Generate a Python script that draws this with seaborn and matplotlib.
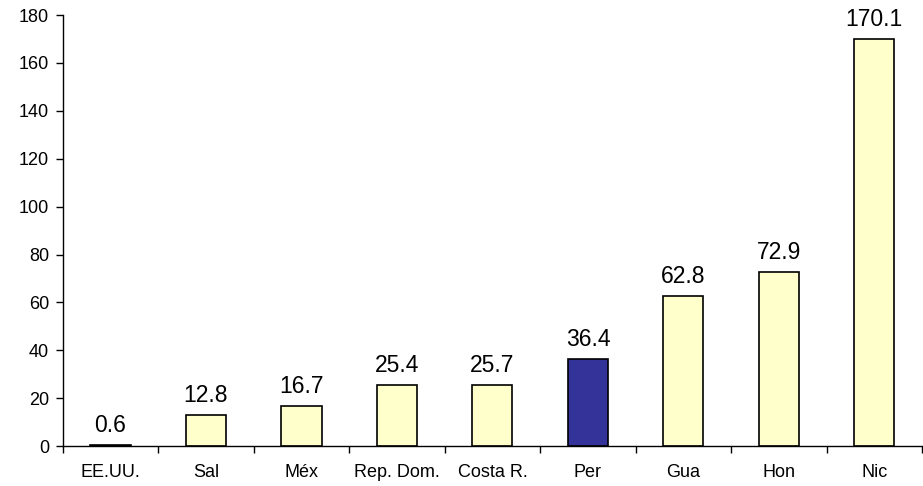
import matplotlib
matplotlib.use("Agg")
import matplotlib.pyplot as plt
import seaborn as sns
import pandas as pd

# data
paises = ["EE.UU.", "Sal", "Méx", "Rep. Dom.", "Costa R.", "Per", "Gua", "Hon", "Nic"]
valores = [0.6, 12.8, 16.7, 25.4, 25.7, 36.4, 62.8, 72.9, 170.1]
colores = ["#FFFFCC"] * 5 + ["#333399"] + ["#FFFFCC"] * 3

df = pd.DataFrame({"pais": paises, "valor": valores})

sns.set_style("white")
plt.rcParams["font.family"] = ["Liberation Sans", "DejaVu Sans"]
plt.rcParams["text.color"] = "black"
plt.rcParams["xtick.color"] = "black"
plt.rcParams["ytick.color"] = "black"

fig = plt.figure(figsize=(9.23, 4.86), dpi=100)
ax = fig.add_axes([0.068, 0.082, 0.931, 0.887])

sns.barplot(data=df, x="pais", y="valor", hue="pais", palette=colores,
            legend=False, width=0.42, edgecolor="black", linewidth=1.2,
            saturation=1, ax=ax)

# value labels above bars
for i, v in enumerate(valores):
    ax.annotate(f"{v:.1f}", (i, v), xytext=(0, 13), textcoords="offset pixels",
                ha="center", va="baseline", fontsize=16.5, color="black")

ax.set_ylim(0, 180)
ax.set_xlim(-0.5, len(paises) - 0.5)
ax.set_yticks(range(0, 181, 20))
ax.set_xlabel("")
ax.set_ylabel("")

# Excel-style tick marks between categories
ax.set_xticks([i + 0.5 for i in range(-1, len(paises))], minor=True)
ax.tick_params(axis="x", which="major", bottom=False, length=0, labelsize=13, pad=12.5)
ax.tick_params(axis="x", which="minor", bottom=True, length=5, width=1, color="black", direction="out")
ax.tick_params(axis="y", left=True, length=5, width=1, color="black", direction="out", labelsize=13, pad=5)

sns.despine(ax=ax)
ax.spines["left"].set_color("black")
ax.spines["bottom"].set_color("black")
ax.spines["left"].set_linewidth(1)
ax.spines["bottom"].set_linewidth(1)

fig.savefig("out.png", dpi=100)
